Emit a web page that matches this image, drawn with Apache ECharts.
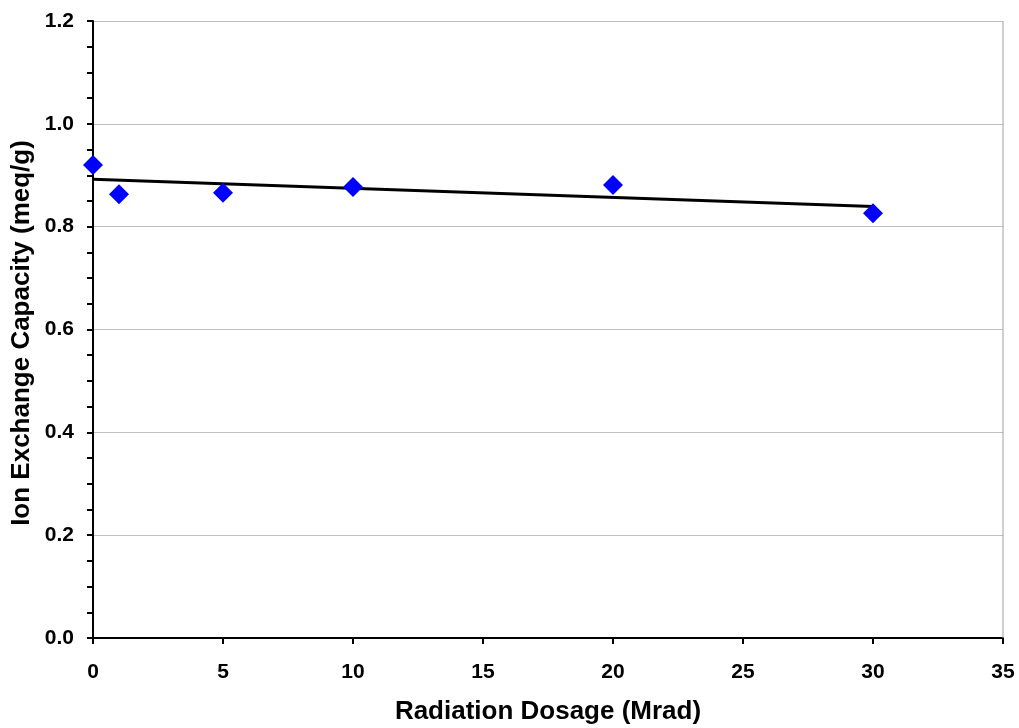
<!DOCTYPE html>
<html>
<head>
<meta charset="utf-8">
<script src="https://cdn.jsdelivr.net/npm/echarts@6/dist/echarts.min.js"></script>
<style>html,body{margin:0;padding:0;background:#fff}#c{width:1019px;height:728px}</style>
</head>
<body>
<div id="c"></div>
<script>
var dosage = [0, 1, 5, 10, 20, 30];
var capacity = [0.920, 0.863, 0.866, 0.877, 0.881, 0.826];
var trendX = [0, 30];
var trendY = [0.892, 0.839];
var xTitle = 'Radiation Dosage (Mrad)';
var yTitle = 'Ion Exchange Capacity (meq/g)';

var chart = echarts.init(document.getElementById('c'));
var font = 'Liberation Sans, Arial, sans-serif';
chart.setOption({
  animation: false,
  grid: {left: 93, right: 16, top: 21, bottom: 90, show: false},
  graphic: [
    {type: 'text', x: 548, y: 712,
     style: {text: xTitle, fontFamily: font, fontWeight: 'bold', fontSize: 26, fill: '#000',
             align: 'center', verticalAlign: 'middle'}},
    {type: 'text', x: 22, y: 333, rotation: Math.PI / 2,
     style: {text: yTitle, fontFamily: font, fontWeight: 'bold', fontSize: 26, fill: '#000',
             align: 'center', verticalAlign: 'middle'}}
  ],
  xAxis: {
    type: 'value', min: 0, max: 35, interval: 5,
    axisLine: {show: true, lineStyle: {color: '#000', width: 2}},
    axisTick: {show: true, length: 6, lineStyle: {color: '#000', width: 2}},
    axisLabel: {fontFamily: font, fontWeight: 'bold', fontSize: 21, color: '#000', margin: 24},
    splitLine: {show: false}
  },
  yAxis: {
    type: 'value', min: 0, max: 1.2, interval: 0.2,
    axisLine: {show: true, lineStyle: {color: '#000', width: 2}},
    axisTick: {show: true, length: 6, lineStyle: {color: '#000', width: 2}},
    minorTick: {show: true, splitNumber: 4, length: 6, lineStyle: {color: '#000', width: 2}},
    axisLabel: {fontFamily: font, fontWeight: 'bold', fontSize: 21, color: '#000', margin: 19,
      formatter: function (v) { return v.toFixed(1); }},
    splitLine: {show: true, lineStyle: {color: '#c0c0c0', width: 1}}
  },
  series: [
    {
      type: 'line',
      data: [[35, 0], [35, 1.2]],
      symbol: 'none', silent: true,
      lineStyle: {color: '#a0a0a0', width: 1}
    },
    {
      type: 'line',
      data: trendX.map(function (x, i) { return [x, trendY[i]]; }),
      symbol: 'none',
      lineStyle: {color: '#000', width: 3}
    },
    {
      type: 'scatter',
      data: dosage.map(function (x, i) { return [x, capacity[i]]; }),
      symbol: 'diamond', symbolSize: [20, 20],
      itemStyle: {color: '#0000ff', opacity: 1},
      z: 5
    }
  ]
});
</script>
</body>
</html>
